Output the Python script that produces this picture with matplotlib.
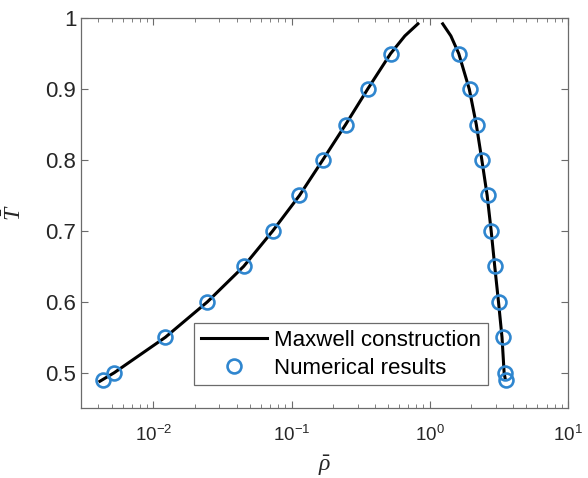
import matplotlib
matplotlib.use('Agg')
import matplotlib.pyplot as plt
from matplotlib.ticker import FixedLocator, LogLocator

plt.rcParams['font.family'] = ['Liberation Sans', 'DejaVu Sans']
plt.rcParams['mathtext.fontset'] = 'custom'
plt.rcParams['mathtext.rm'] = 'Liberation Sans'
plt.rcParams['mathtext.it'] = 'Liberation Serif:italic'

# Maxwell construction curve (gas and liquid branch)
gas_rho = [0.0041, 0.0052, 0.0122, 0.0246, 0.045, 0.073, 0.114, 0.168, 0.246, 0.355, 0.52, 0.66, 0.82]
gas_T = [0.488, 0.50, 0.55, 0.60, 0.65, 0.70, 0.75, 0.80, 0.85, 0.90, 0.95, 0.975, 0.992]
liq_rho = [1.24, 1.42, 1.62, 1.93, 2.17, 2.38, 2.60, 2.78, 2.95, 3.14, 3.33, 3.45, 3.50]
liq_T = [0.992, 0.975, 0.95, 0.90, 0.85, 0.80, 0.75, 0.70, 0.65, 0.60, 0.55, 0.50, 0.493]

# numerical results (circles)
num_T = [0.49, 0.50, 0.55, 0.60, 0.65, 0.70, 0.75, 0.80, 0.85, 0.90, 0.95]
num_gas = [0.0043, 0.0052, 0.0122, 0.0246, 0.0449, 0.0728, 0.114, 0.168, 0.246, 0.355, 0.521]
num_liq = [3.55, 3.48, 3.38, 3.16, 2.96, 2.77, 2.63, 2.38, 2.19, 1.95, 1.62]

blue = '#2f86cf'
gray = '#6b6b6b'

fig = plt.figure(figsize=(5.88, 4.78), dpi=100)
ax = fig.add_axes([0.138, 0.146, 0.828, 0.816])

ax.plot(gas_rho, gas_T, color='black', lw=2.2, label='Maxwell construction')
ax.plot(liq_rho, liq_T, color='black', lw=2.2)
ax.plot(num_gas + num_liq, num_T + num_T, 'o', mfc='none', mec=blue, mew=1.9, ms=10,
        label='Numerical results')

ax.set_xscale('log')
ax.set_xlim(3e-3, 10)
ax.set_ylim(0.45, 1)
ax.yaxis.set_major_locator(FixedLocator([0.5, 0.6, 0.7, 0.8, 0.9, 1.0]))
ax.set_yticklabels(['0.5', '0.6', '0.7', '0.8', '0.9', '1'])
ax.xaxis.set_major_locator(LogLocator(base=10, numticks=10))
ax.xaxis.set_minor_locator(LogLocator(base=10, subs=range(2, 10), numticks=20))

ax.tick_params(which='both', direction='in', top=True, right=True, color=gray,
               labelsize=16, labelcolor='#262626')
ax.tick_params(axis='x', which='major', labelsize=13.5, pad=12)
ax.tick_params(which='major', length=5, width=0.8)
ax.tick_params(which='minor', length=3, width=0.6)
for s in ax.spines.values():
    s.set_color(gray)
    s.set_linewidth(0.9)

ax.set_xlabel(r'$\bar{\rho}$', fontsize=17, color='#262626', labelpad=6)
ax.set_ylabel(r'$\bar{T}$', fontsize=17, color='#262626', labelpad=14)

leg = ax.legend(loc='lower left', bbox_to_anchor=(0.232, 0.059), fontsize=16,
                frameon=True, fancybox=False, framealpha=1, edgecolor=gray,
                handlelength=3.0, handletextpad=0.3, borderpad=0.3, labelspacing=0.3,
                borderaxespad=0)
leg.get_frame().set_linewidth(0.9)

fig.savefig('out.png', dpi=100)
